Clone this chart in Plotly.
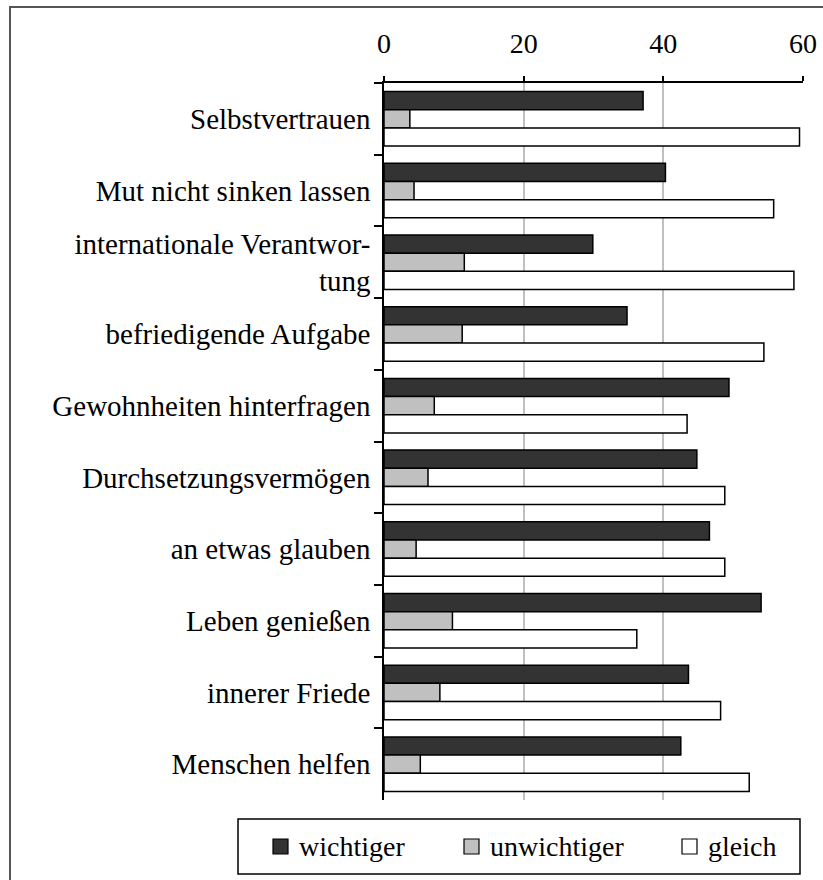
import plotly.graph_objects as go

categories = [
    "Selbstvertrauen",
    "Mut nicht sinken lassen",
    "internationale Verantwor-<br>tung",
    "befriedigende Aufgabe",
    "Gewohnheiten hinterfragen",
    "Durchsetzungsvermögen",
    "an etwas glauben",
    "Leben genießen",
    "innerer Friede",
    "Menschen helfen",
]
series_names = ["wichtiger", "unwichtiger", "gleich"]
wichtiger = [37.1, 40.3, 29.9, 34.8, 49.4, 44.8, 46.6, 54.0, 43.6, 42.5]
unwichtiger = [3.7, 4.3, 11.5, 11.2, 7.2, 6.3, 4.6, 9.8, 8.0, 5.2]
gleich = [59.5, 55.8, 58.7, 54.4, 43.4, 48.8, 48.8, 36.2, 48.2, 52.3]
x_ticks = [0, 20, 40, 60]

FONT = "Liberation Serif"
COLORS = ["#333333", "#c0c0c0", "#ffffff"]

W, H = 823, 880
L, R, T, B = 384, 20, 83, 80
pw, ph = W - L - R, H - T - B


def px_x(p):
    return (p - L) / pw


def px_y(p):
    return (H - B - p) / ph


fig = go.Figure()
for name, vals, col in zip(series_names, [wichtiger, unwichtiger, gleich], COLORS):
    fig.add_trace(go.Bar(
        y=categories, x=vals, name=name, orientation="h",
        marker=dict(color=col, line=dict(color="black", width=1.5)),
    ))

# legend box drawn as shapes + text annotations
shapes = [
    dict(type="rect", xref="paper", yref="paper",
         x0=px_x(10), x1=px_x(840), y0=px_y(7), y1=px_y(900),
         line=dict(color="#555555", width=2), fillcolor="rgba(0,0,0,0)", layer="below"),
    dict(type="rect", xref="paper", yref="paper",
         x0=px_x(238), x1=px_x(800), y0=px_y(819), y1=px_y(874),
         line=dict(color="black", width=1.5), fillcolor="white"),
]
annotations = []
sq_left = [273, 464, 682]
for name, col, sx in zip(series_names, COLORS, sq_left):
    shapes.append(dict(type="rect", xref="paper", yref="paper",
                       x0=px_x(sx), x1=px_x(sx + 15), y0=px_y(839), y1=px_y(854),
                       line=dict(color="black", width=1.2), fillcolor=col))
    annotations.append(dict(text=name, xref="paper", yref="paper",
                            x=px_x(sx + 24), y=px_y(846), xanchor="left", yanchor="middle",
                            showarrow=False,
                            font=dict(family=FONT, size=28, color="black")))

fig.update_layout(
    width=W, height=H,
    margin=dict(l=L, r=R, t=T, b=B, autoexpand=False),
    paper_bgcolor="white", plot_bgcolor="white",
    barmode="group", bargap=0.24, bargroupgap=0,
    font=dict(family=FONT, size=28, color="black"),
    showlegend=False,
    xaxis=dict(
        side="top", range=[0, 60], tickvals=x_ticks, ticktext=[str(v) for v in x_ticks],
        showgrid=True, gridcolor="#c0c0c0", gridwidth=1.5, zeroline=False,
        showline=True, linecolor="black", linewidth=1.5,
        ticks="outside", ticklen=5, tickwidth=1.5, tickcolor="black",
        ticklabelstandoff=12,
        tickfont=dict(family=FONT, size=28, color="black"),
        fixedrange=True,
    ),
    yaxis=dict(
        autorange="reversed", type="category",
        showgrid=False, zeroline=False,
        showline=True, linecolor="black", linewidth=1.5,
        ticks="outside", tickson="boundaries", ticklen=8, tickwidth=1.5, tickcolor="black",
        ticklabelstandoff=6,
        tickfont=dict(family=FONT, size=29, color="black"),
        fixedrange=True,
    ),
    shapes=shapes,
    annotations=annotations,
)

fig.write_html(
    "out.html",
    config={"displayModeBar": False},
    post_script="document.body.style.margin='0';document.body.style.overflow='hidden';",
)
